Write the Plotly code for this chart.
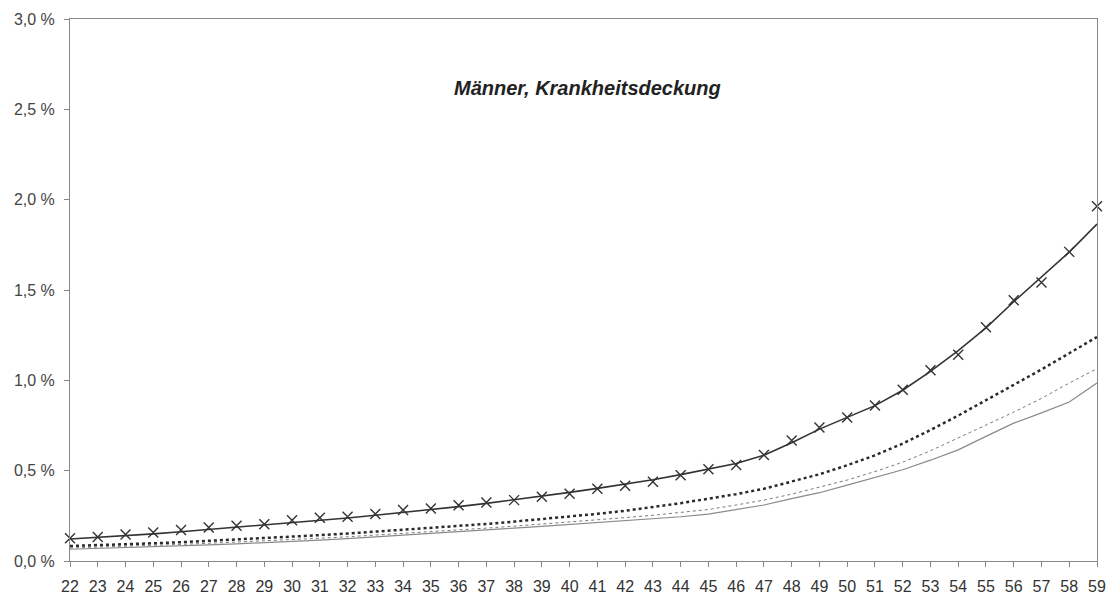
import plotly.graph_objects as go

ages = list(range(22, 60))

observed = [0.126, 0.133, 0.147, 0.158, 0.171, 0.186, 0.195, 0.204, 0.226, 0.239,
            0.245, 0.260, 0.282, 0.291, 0.308, 0.324, 0.337, 0.356, 0.372, 0.400,
            0.417, 0.439, 0.474, 0.508, 0.532, 0.587, 0.667, 0.739, 0.794, 0.861,
            0.948, 1.056, 1.141, 1.294, 1.443, 1.541, 1.711, 1.963]

fitted = [0.122, 0.130, 0.140, 0.150, 0.162, 0.174, 0.186, 0.198, 0.211, 0.224,
          0.238, 0.253, 0.268, 0.284, 0.301, 0.319, 0.338, 0.358, 0.380, 0.402,
          0.424, 0.450, 0.478, 0.508, 0.540, 0.585, 0.655, 0.730, 0.795, 0.860,
          0.945, 1.050, 1.165, 1.290, 1.435, 1.570, 1.710, 1.865]

bold_dotted = [0.083, 0.087, 0.092, 0.098, 0.104, 0.111, 0.118, 0.126, 0.134, 0.143,
               0.152, 0.162, 0.172, 0.182, 0.193, 0.205, 0.218, 0.232, 0.246, 0.261,
               0.278, 0.298, 0.320, 0.345, 0.370, 0.400, 0.440, 0.480, 0.530, 0.585,
               0.650, 0.725, 0.805, 0.890, 0.975, 1.060, 1.150, 1.240]

grey_dotted = [0.072, 0.076, 0.081, 0.086, 0.092, 0.098, 0.104, 0.111, 0.118, 0.126,
               0.134, 0.143, 0.152, 0.162, 0.172, 0.182, 0.193, 0.204, 0.215, 0.227,
               0.240, 0.253, 0.268, 0.285, 0.310, 0.337, 0.370, 0.408, 0.448, 0.495,
               0.547, 0.610, 0.680, 0.750, 0.824, 0.900, 0.985, 1.065]

grey_solid = [0.065, 0.069, 0.073, 0.078, 0.083, 0.089, 0.095, 0.101, 0.108, 0.116,
              0.124, 0.133, 0.142, 0.152, 0.162, 0.172, 0.182, 0.192, 0.202, 0.212,
              0.222, 0.233, 0.245, 0.260, 0.283, 0.310, 0.345, 0.378, 0.420, 0.462,
              0.505, 0.558, 0.615, 0.690, 0.763, 0.820, 0.880, 0.985]

y_ticks = [0.0, 0.5, 1.0, 1.5, 2.0, 2.5, 3.0]
title_text = "Männer, Krankheitsdeckung"

fig = go.Figure()
fig.add_trace(go.Scatter(x=ages, y=grey_solid, mode="lines",
                         line=dict(color="#8a8a8a", width=1.2), cliponaxis=False))
fig.add_trace(go.Scatter(x=ages, y=grey_dotted, mode="lines",
                         line=dict(color="#7a7a7a", width=1, dash="dot"), cliponaxis=False))
fig.add_trace(go.Scatter(x=ages, y=bold_dotted, mode="lines",
                         line=dict(color="#2a2a2a", width=2.5, dash="dot"), cliponaxis=False))
fig.add_trace(go.Scatter(x=ages, y=fitted, mode="lines",
                         line=dict(color="#333333", width=1.6), cliponaxis=False))
fig.add_trace(go.Scatter(x=ages, y=observed, mode="markers",
                         marker=dict(symbol="x-thin", size=10, line=dict(color="#333333", width=1.4)),
                         cliponaxis=False))

fig.update_layout(
    width=1114, height=599,
    margin=dict(l=70, r=17, t=19, b=38),
    paper_bgcolor="white", plot_bgcolor="white",
    showlegend=False,
    font=dict(family="Liberation Sans, Arial, sans-serif", color="#444444", size=16),
    annotations=[dict(text="<b><i>" + title_text + "</i></b>", x=0.504, y=0.873,
                      xref="paper", yref="paper", xanchor="center", yanchor="middle",
                      showarrow=False, font=dict(size=20, color="#222222"))],
)
fig.update_xaxes(range=[22, 59], tickmode="array", tickvals=ages,
                 ticktext=[str(a) for a in ages], ticks="outside", ticklen=5,
                 tickcolor="#888888", showgrid=False, zeroline=False,
                 showline=True, linecolor="#888888", linewidth=1, mirror=True,
                 ticklabelstandoff=6, automargin=False,
                 tickfont=dict(size=16, color="#333333"))
fig.update_yaxes(range=[0, 3.0], tickmode="array", tickvals=y_ticks,
                 ticktext=[f"{v:.1f} %".replace(".", ",") for v in y_ticks],
                 ticks="outside", ticklen=5, tickcolor="#888888",
                 showgrid=False, zeroline=False,
                 showline=True, linecolor="#888888", linewidth=1, mirror=True,
                 ticklabelstandoff=6, automargin=False,
                 tickfont=dict(size=16, color="#444444"))

fig.write_html("out.html", config={"displayModeBar": False},
               post_script="document.body.style.margin='0';")
